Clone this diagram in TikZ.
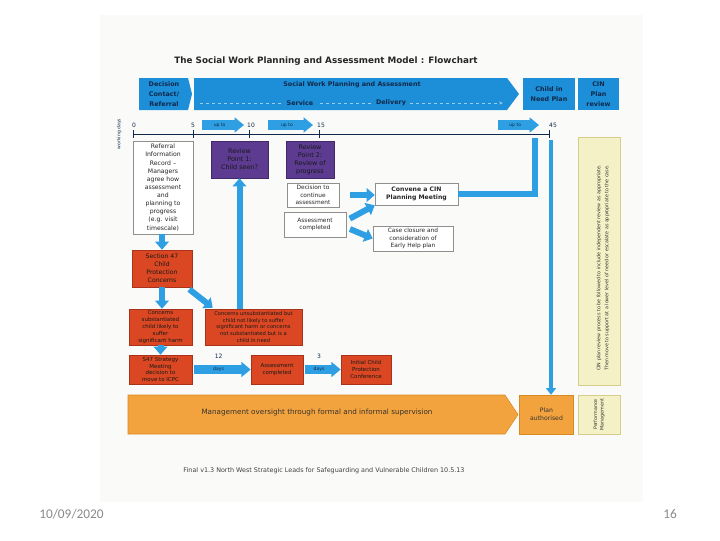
\documentclass[tikz,border=0pt]{standalone}
\usepackage{fontspec}
\setmainfont{DejaVu Sans}
\newfontfamily\slidefont{Carlito}
\usetikzlibrary{arrows.meta,positioning,calc}
\definecolor{swblue}{HTML}{1D8FD9}
\definecolor{swink}{HTML}{10294A}
\definecolor{swarrow}{HTML}{2E9FE3}
\definecolor{swpurple}{HTML}{5C3B91}
\definecolor{swred}{HTML}{DA4722}
\definecolor{swredline}{HTML}{A8321A}
\definecolor{sworange}{HTML}{F3A33D}
\definecolor{sworangeline}{HTML}{D88A22}
\definecolor{swnote}{HTML}{F5F1C6}
\definecolor{swnoteline}{HTML}{D6CD8A}
\definecolor{swgrey}{HTML}{8F8F8F}
\definecolor{scanbg}{HTML}{FAFAF9}
\definecolor{slidegrey}{HTML}{8A8A8A}

\tikzset{
  bannertext/.style={text=swink,font=\bfseries\fontsize{4.8}{7.5}\selectfont,align=center,inner sep=0pt},
  whitebox/.style={draw=swgrey,fill=white,line width=0.4pt,align=center,text=black!85,
    font=\fontsize{4.4}{5.6}\selectfont,inner sep=0pt},
  purplebox/.style={draw=swpurple!70!black,fill=swpurple,line width=0.4pt,align=center,
    text=black!90,font=\fontsize{4.8}{6}\selectfont,inner sep=0pt},
  redbox/.style={draw=swredline,fill=swred,line width=0.4pt,align=center,text=black!90,
    font=\fontsize{4.1}{5.2}\selectfont,inner sep=0pt},
  blockarrow/.style={draw=swarrow,line width=4.5pt,-{Triangle[length=6pt,width=10pt]}},
  thinarrow/.style={draw=swarrow,line width=3pt,-{Triangle[length=5pt,width=7.5pt]}},
  uptoarrow/.style={draw=swarrow,line width=7pt,-{Triangle[length=7pt,width=11pt]}},
  daylabel/.style={text=swink,font=\fontsize{3.4}{4}\selectfont,inner sep=0pt},
  ticklabel/.style={text=swink,font=\fontsize{4.5}{5}\selectfont,inner sep=0pt}
}

\begin{document}
\begin{tikzpicture}[x=0.75pt,y=-0.75pt]
  \useasboundingbox (0,0) rectangle (720,540);
  \fill[white] (0,0) rectangle (720,540);
  \fill[scanbg] (100,15) rectangle (643,502);

  % title
  \node[font=\bfseries\fontsize{6.6}{8}\selectfont,text=black!85] (title) at (326,61)
    {The Social Work Planning and Assessment Model : Flowchart};

  % blue banner
  \fill[swblue] (139,78) -- (188,78) -- (192,94) -- (188,110) -- (139,110) -- cycle;
  \fill[swblue] (194,78) -- (507,78) -- (519,94) -- (507,110) -- (194,110) -- cycle;
  \fill[swblue] (523,78) rectangle (575,110);
  \fill[swblue] (578,78) rectangle (619,110);
  \node[bannertext] (decision) at (164,94) {Decision\\Contact/\\Referral};
  \node[bannertext] (swpa) at (352,85) {Social Work Planning and Assessment};
  \node[bannertext] (cinplan) at (549,94) {Child in\\Need Plan};
  \node[bannertext] (cinreview) at (598.5,94) {CIN\\Plan\\review};
  \coordinate (dashstart) at (200,103);
  \coordinate (dashend) at (503,103);
  \draw[white!55!swblue,dash pattern=on 2.5pt off 2pt,line width=0.6pt,-{Stealth[length=3pt]}]
    (dashstart) -- (dashend);
  \node[bannertext,fill=swblue,inner xsep=3pt] (service) at (300,103) {Service};
  \node[bannertext,fill=swblue,inner xsep=3pt] (delivery) at (391,103) {Delivery};

  % working days line
  \node[rotate=90,text=swink,font=\fontsize{3.4}{4}\selectfont] (wdays) at (119,134) {working days};
  \coordinate (day0) at (133,134);
  \coordinate (day45) at (549,134);
  \draw[swink,line width=0.7pt] (day0) -- (day45);
  \foreach \x/\lx/\tlabel [count=\i] in {133/134/0,193/193/5,249/251/10,319/321/15,549/553/45}
  {
    \draw[swink,line width=0.7pt] (\x,130) -- (\x,138);
    \node[ticklabel] (tick\i) at (\lx,125) {\tlabel};
  }
  \foreach \a/\b in {202/244,268/313,498/539}
  {
    \draw[uptoarrow] (\a,125) -- node[daylabel,pos=0.42] {up to} (\b,125);
  }

  % assessment boxes
  \node[whitebox,font=\fontsize{4.6}{6.1}\selectfont,minimum width=45pt,minimum height=70pt]
    (referral) at (163,187.5)
    {Referral\\Information\\Record --\\Managers\\agree how\\assessment\\and\\planning to\\progress\\(e.g. visit\\timescale)};
  \node[purplebox,minimum width=42.75pt,minimum height=27.75pt] (review1) at (239.5,159.5)
    {Review\\Point 1:\\Child seen?};
  \node[purplebox,minimum width=36pt,minimum height=27.75pt] (review2) at (310,159.5)
    {Review\\Point 2:\\Review of\\progress};
  \node[whitebox,minimum width=39pt,minimum height=18pt] (continue) at (313,195)
    {Decision to\\continue\\assessment};
  \node[whitebox,minimum width=46.5pt,minimum height=18.75pt] (completed) at (315,224.5)
    {Assessment\\completed};
  \node[whitebox,font=\bfseries\fontsize{4.6}{6}\selectfont,minimum width=62.25pt,minimum height=16.5pt]
    (convene) at (416.5,194) {Convene a CIN\\Planning Meeting};
  \node[whitebox,minimum width=60pt,minimum height=18.75pt] (closure) at (413,238.5)
    {Case closure and\\consideration of\\Early Help plan};

  % child protection boxes
  \node[redbox,font=\fontsize{4.6}{6}\selectfont,minimum width=45pt,minimum height=27.75pt]
    (section47) at (162,268.5) {Section 47\\Child\\Protection\\Concerns};
  \node[redbox,minimum width=47.25pt,minimum height=27pt] (substantiated) at (160.5,327)
    {Concerns\\substantiated\\child likely to\\suffer\\significant harm};
  \node[redbox,font=\fontsize{3.9}{5.2}\selectfont,minimum width=72.75pt,minimum height=27pt]
    (unsubstantiated) at (253.5,327)
    {Concerns unsubstantiated but\\child not likely to suffer\\significant harm or concerns\\not substantiated but is a\\child in need};
  \node[redbox,minimum width=47.25pt,minimum height=21.75pt] (strategy) at (160.5,369.5)
    {S47 Strategy\\Meeting\\decision to\\move to ICPC};
  \node[redbox,minimum width=39pt,minimum height=21.75pt] (assessred) at (277,369.5)
    {Assessment\\completed};
  \node[redbox,minimum width=37.5pt,minimum height=21.75pt] (icpc) at (366,369.5)
    {Initial Child\\Protection\\Conference};

  % side note
  \node[draw=swnoteline,fill=swnote,line width=0.4pt,minimum width=31.5pt,minimum height=186pt]
    (note) at (599,261) {};
  \node[rotate=90,align=left,text=black!80,font=\fontsize{3.6}{6}\selectfont] (notetext) at (603,268)
    {CIN plan review process to be followed to include independent review as appropriate.\\
     Then move to support at a lower level of need or escalate as appropriate to the case.};

  % management strip
  \filldraw[fill=sworange,draw=sworangeline,line width=0.4pt]
    (128,395) -- (505,395) -- (518,414.5) -- (505,434) -- (128,434) -- cycle;
  \node[text=black!80,font=\fontsize{5.4}{6.5}\selectfont] (oversight) at (317,413)
    {Management oversight through formal and informal supervision};
  \node[draw=sworangeline,fill=sworange,line width=0.4pt,minimum width=40.5pt,minimum height=29.25pt,
    align=center,font=\fontsize{4.6}{6}\selectfont,text=black!80] (authorised) at (546.5,414.5)
    {Plan\\authorised};
  \node[draw=swnoteline,fill=swnote,line width=0.4pt,minimum width=31.5pt,minimum height=29.25pt]
    (perfbox) at (599,414.5) {};
  \node[rotate=90,align=center,text=black!80,font=\fontsize{3.6}{5}\selectfont] (perftext) at (perfbox)
    {Performance\\Management};

  \node[text=black!75,font=\fontsize{4.8}{6}\selectfont] (credit) at (324,471)
    {Final v1.3 North West Strategic Leads for Safeguarding and Vulnerable Children 10.5.13};

  % connectors
  \draw[blockarrow] (section47.north |- referral.south) -- (section47.north);
  \draw[blockarrow] (section47.south) -- (section47.south |- substantiated.north);
  \draw[blockarrow] ($(section47.south east)+(-3,2)$) -- ($(unsubstantiated.north west)+(8,-1)$);
  \draw[blockarrow] (unsubstantiated.north -| review1.south) -- (review1.south);
  \draw[blockarrow] (substantiated.south) -- (substantiated.south |- strategy.north);
  \draw[uptoarrow,shorten <=1.5pt] (strategy.east) --
    node[daylabel,pos=0.45] {days} node[ticklabel,above=5pt,pos=0.45] {12} (assessred.west);
  \draw[uptoarrow,shorten <=1.5pt] (assessred.east) --
    node[daylabel,pos=0.42] {days} node[ticklabel,above=5pt,pos=0.42] {3} (icpc.west);
  \draw[blockarrow,shorten <=8pt] (continue.east) -- (continue.east -| convene.west);
  \draw[blockarrow,shorten <=3pt] ($(completed.east)+(0,-4)$) -- (convene.south west);
  \draw[blockarrow,shorten <=3pt] ($(completed.east)+(0,3)$) -- (closure.west);
  \coordinate (reach45) at (535,138);
  \draw[swarrow,line width=4pt] (convene.east) -| (reach45);
  \coordinate (top45) at (551,140);
  \draw[thinarrow] (top45) -- (top45 |- authorised.north);

  % slide footer
  \node[text=slidegrey,font=\slidefont\fontsize{10}{12}\selectfont] (date) at (71.5,514) {10/09/2020};
  \node[text=slidegrey,font=\slidefont\fontsize{10}{12}\selectfont] (pageno) at (670,514) {16};
\end{tikzpicture}
\end{document}
